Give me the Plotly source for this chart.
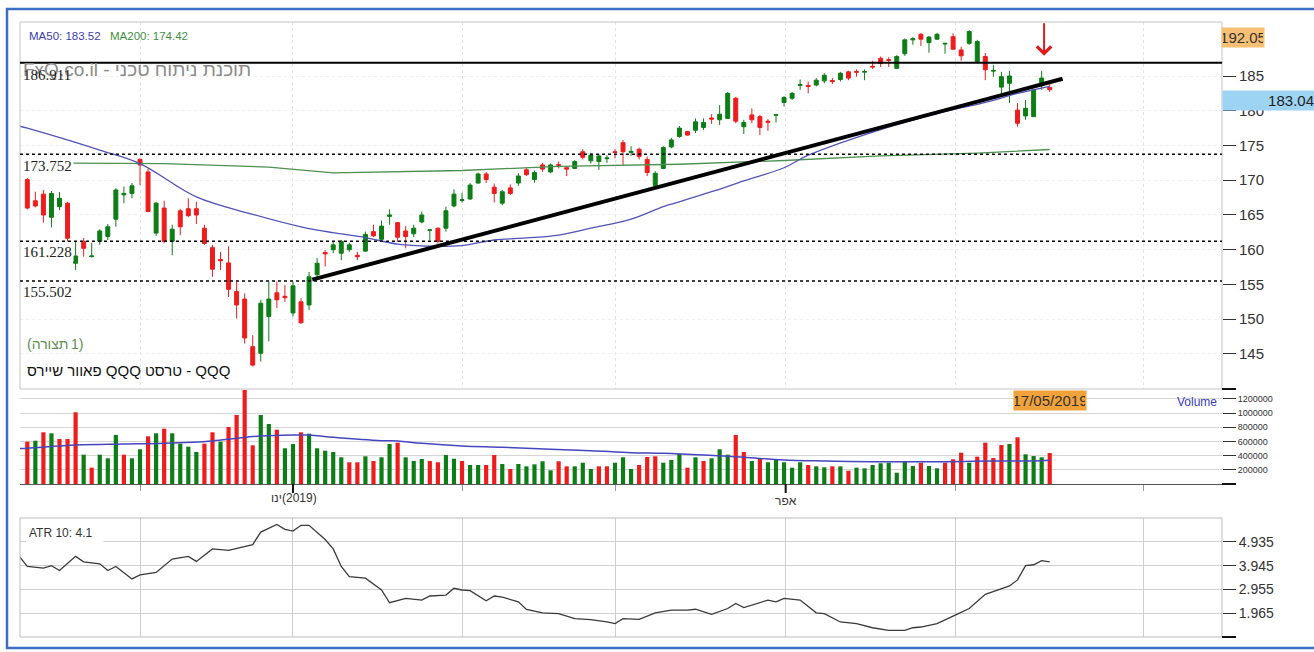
import plotly.graph_objects as go

# ---------------- DATA ----------------
opens = [170.1, 167.05, 168.0, 164.67, 166.2, 166.7, 158.05, 161.2, 159.0, 161.2,
         161.9, 164.4, 167.9, 168.1, 173.0, 171.2, 162.4, 166.0, 161.2, 165.6,
         165.9, 165.9, 163.1, 160.3, 158.6, 158.1, 154.0, 152.9, 146.05, 145.1,
         150.4, 153.8, 153.3, 150.9, 152.5, 152.05, 156.4, 159.6, 160.0, 159.5,
         160.0, 159.2, 159.8, 162.6, 161.5, 164.8, 163.9, 162.7, 162.3, 164.0,
         162.8, 163.1, 163.1, 166.3, 167.1, 167.3, 169.6, 170.9, 169.0, 166.7,
         168.9, 169.6, 171.5, 170.1, 172.2, 171.2, 172.25, 171.8, 171.7, 174.1,
         172.8, 172.7, 173.1, 174.1, 175.4, 174.0, 174.45, 173.0, 169.2, 171.7,
         174.8, 176.3, 177.0, 177.2, 177.6, 178.95, 178.7, 178.9, 181.8, 177.7,
         179.4, 179.15, 178.5, 179.35, 181.2, 181.8, 183.65, 183.65, 183.7, 184.3,
         184.35, 184.5, 185.6, 185.65, 185.55, 186.4, 187.55, 187.35, 186.1, 188.2,
         190.2, 191.0, 189.8, 190.3, 189.6, 190.65, 188.75, 189.7, 187.05, 187.8,
         185.7, 183.4, 183.95, 180.1, 179.25, 179.15, 183.7, 183.35]
highs = [170.3, 168.35, 168.6, 168.45, 168.3, 166.9, 161.2, 161.7, 161.0, 162.95,
         163.7, 168.85, 169.1, 169.6, 173.15, 171.7, 166.9, 167.05, 163.6, 165.9,
         167.4, 166.9, 163.6, 160.7, 159.7, 160.5, 155.4, 153.7, 147.7, 152.8,
         155.4, 155.4, 154.9, 155.4, 153.0, 156.8, 158.8, 160.0, 161.2, 161.4,
         161.0, 159.7, 162.6, 163.6, 164.2, 165.8, 164.0, 163.4, 163.6, 165.5,
         162.9, 163.2, 166.2, 168.7, 168.2, 169.6, 171.1, 171.2, 169.5, 168.6,
         169.4, 171.0, 171.9, 171.4, 172.5, 172.4, 172.7, 172.0, 172.9, 174.45,
         173.95, 173.8, 173.6, 174.45, 175.8, 174.9, 174.7, 173.4, 171.3, 174.9,
         176.1, 177.8, 177.1, 178.9, 178.9, 179.5, 180.8, 182.7, 182.0, 178.7,
         180.35, 179.4, 178.8, 179.5, 182.1, 182.7, 184.5, 184.2, 184.7, 185.4,
         184.7, 185.6, 185.75, 185.95, 185.95, 187.2, 187.8, 187.7, 188.0, 190.4,
         190.6, 191.2, 190.75, 191.2, 189.7, 191.15, 189.2, 191.6, 190.2, 188.3,
         186.6, 185.6, 185.75, 181.1, 181.55, 183.1, 185.75, 184.4]
lows = [165.8, 166.1, 163.9, 163.2, 165.7, 161.2, 157.1, 159.0, 158.9, 160.7,
        161.4, 163.3, 166.7, 167.4, 169.3, 165.4, 162.0, 160.9, 159.2, 162.1,
        164.7, 163.7, 160.7, 156.1, 157.1, 153.2, 150.1, 146.5, 143.2, 143.9,
        146.8, 151.6, 152.5, 150.4, 149.3, 151.3, 155.8, 157.6, 159.5, 158.5,
        159.7, 158.5, 159.7, 161.8, 161.4, 163.6, 161.1, 160.2, 161.8, 163.8,
        161.4, 160.9, 162.6, 166.1, 166.8, 167.2, 169.5, 169.6, 166.8, 166.4,
        167.9, 169.2, 170.6, 169.65, 171.2, 171.0, 171.7, 170.6, 171.6, 173.0,
        172.4, 171.5, 172.5, 173.15, 172.2, 173.5, 173.0, 170.6, 168.8, 171.6,
        174.6, 176.1, 176.4, 176.8, 177.2, 178.1, 177.95, 178.8, 178.2, 176.65,
        178.2, 176.5, 177.1, 178.3, 180.6, 181.55, 183.0, 182.5, 183.5, 183.95,
        183.85, 184.2, 184.4, 184.9, 184.4, 186.0, 186.3, 186.3, 186.0, 187.9,
        189.5, 189.3, 188.35, 190.2, 188.2, 188.75, 187.2, 189.5, 186.9, 184.4,
        184.9, 182.3, 181.1, 177.7, 178.7, 179.1, 183.0, 182.7]
closes = [166.0, 166.3, 165.0, 168.1, 167.4, 161.65, 159.1, 160.2, 159.1, 162.7,
          163.3, 168.6, 168.1, 169.2, 172.2, 165.5, 166.7, 161.2, 162.95, 163.3,
          164.9, 165.0, 160.9, 157.2, 158.4, 154.3, 152.05, 147.3, 143.4, 152.3,
          152.9, 152.8, 153.1, 154.8, 149.5, 156.1, 158.05, 159.4, 160.7, 161.2,
          160.7, 159.0, 162.2, 162.0, 163.4, 165.0, 161.8, 161.9, 163.1, 165.0,
          162.85, 161.2, 165.6, 168.0, 167.2, 169.3, 170.9, 170.1, 168.1, 168.35,
          168.1, 170.6, 170.8, 171.1, 171.6, 172.2, 172.15, 171.6, 172.7, 173.3,
          173.6, 173.5, 173.2, 174.0, 174.1, 174.15, 173.4, 171.1, 171.0, 174.7,
          175.8, 177.5, 176.5, 178.4, 178.3, 178.8, 179.5, 182.5, 178.5, 178.3,
          178.7, 177.6, 178.35, 179.45, 181.9, 182.5, 183.75, 183.5, 184.4, 185.1,
          184.2, 185.4, 184.7, 185.55, 185.65, 186.3, 186.8, 187.25, 187.8, 190.2,
          190.35, 190.3, 190.6, 191.0, 189.7, 188.85, 187.9, 191.4, 189.95, 185.9,
          185.8, 184.9, 185.0, 178.2, 180.35, 183.0, 184.7, 183.04]
volumes = [596000, 610000, 728000, 714000, 634000, 634000, 1010000, 413000, 230000, 413000,
           362000, 690000, 413000, 362000, 489000, 672000, 714000, 779000, 714000, 568000,
           525000, 451000, 568000, 728000, 596000, 803000, 972000, 1324000, 545000, 972000,
           845000, 765000, 503000, 563000, 728000, 709000, 503000, 469000, 451000, 376000,
           306000, 306000, 390000, 324000, 376000, 563000, 582000, 376000, 324000, 352000,
           324000, 306000, 408000, 356000, 324000, 268000, 268000, 268000, 408000, 282000,
           211000, 282000, 249000, 277000, 320000, 193000, 320000, 249000, 249000, 300000,
           211000, 249000, 249000, 300000, 376000, 211000, 268000, 380000, 390000, 300000,
           338000, 423000, 230000, 376000, 324000, 362000, 489000, 413000, 690000, 451000,
           324000, 352000, 306000, 338000, 306000, 230000, 306000, 268000, 249000, 235000,
           249000, 249000, 187000, 230000, 221000, 268000, 292000, 300000, 159000, 324000,
           254000, 300000, 254000, 221000, 300000, 348000, 441000, 300000, 385000, 582000,
           366000, 549000, 563000, 658000, 418000, 394000, 376000, 437000]

ma50_idx = [-1, 0, 9, 14, 21, 28, 34, 38, 42, 46, 50, 54, 58, 62, 66, 70, 75, 79, 81,
            85, 89, 94, 97, 106, 113, 119, 123, 127]
ma50_val = [177.8, 177.5, 174.35, 172.4, 167.6, 165.1, 163.3, 162.45, 161.75, 160.8, 160.5,
            160.6, 161.4, 161.7, 162.1, 163.1, 164.4, 166.2, 166.9, 168.35, 169.9,
            171.8, 173.6, 177.3, 179.6, 181.2, 182.5, 183.52]
ma200_idx = [0, 17, 30, 38, 54, 66, 81, 94, 106, 118, 127]
ma200_val = [172.5, 172.4, 171.9, 171.05, 171.4, 172.0, 172.3, 172.84, 173.5, 173.9, 174.42]

vol_ma_idx = [-1, 0, 6, 12, 17, 23, 26, 29, 33, 35, 38, 44, 46, 49, 54, 59, 65, 70, 75,
              79, 84, 89, 94, 99, 105, 110, 115, 120, 125, 127]
vol_ma_val = [500000, 503000, 549000, 563000, 573000, 606000, 644000, 676000, 690000, 690000,
              658000, 610000, 606000, 573000, 535000, 517000, 489000, 469000, 441000,
              432000, 408000, 376000, 338000, 324000, 314000, 314000, 314000, 324000,
              324000, 334000]

atr_idx = [-1, 0, 2, 3, 4, 6, 7, 9, 10, 11, 13, 14, 16, 18, 20, 21, 23, 25, 28, 29,
           31, 32, 33, 34, 35, 37, 38, 39, 40, 42, 44, 45, 47, 49, 50, 52, 53, 54, 55,
           57, 58, 59, 61, 62, 64, 66, 68, 70, 72, 73, 74, 76, 78, 80, 82, 83, 85, 87,
           88, 89, 92, 93, 94, 96, 98, 99, 101, 103, 105, 107, 109, 110, 111, 113, 115,
           117, 119, 120, 122, 123, 124, 125, 126, 127]
atr_val = [4.33, 3.91, 3.84, 3.94, 3.74, 4.33, 4.10, 4.02, 3.74, 3.91, 3.39, 3.56, 3.66,
           4.22, 4.33, 4.12, 4.64, 4.58, 4.82, 5.34, 5.66, 5.45, 5.38, 5.62, 5.62, 5.03,
           4.64, 3.91, 3.49, 3.42, 2.93, 2.40, 2.58, 2.51, 2.68, 2.72, 3.00, 2.93, 2.90,
           2.48, 2.68, 2.63, 2.44, 2.12, 1.98, 1.95, 1.74, 1.70, 1.60, 1.53, 1.74, 1.71,
           1.98, 2.09, 2.09, 2.13, 1.92, 2.16, 2.37, 2.20, 2.51, 2.44, 2.58, 2.51, 1.98,
           1.95, 1.60, 1.53, 1.36, 1.25, 1.25, 1.36, 1.39, 1.53, 1.84, 2.16, 2.75, 2.86,
           3.10, 3.35, 3.94, 3.98, 4.15, 4.10]

resistance_level = 186.911
dotted_levels = [173.752, 161.228, 155.502]
trend_idx = [35.4, 128.6]
trend_val = [155.7, 184.6]
signal_idx = 126.3
signal_price = 187.9

ma50_last, ma200_last, atr_last = 183.52, 174.42, 4.1
last_close, period_high, last_date = 183.04, 192.05, "17/05/2019"

month_ticks = [14.1, 33.0, 54.0, 73.1, 94.2, 115.3, 138.7]
month_labels = ["", "", "", "", "אפר", "", ""]
jan_word, jan_year = "ינו", "(2019)"
major_months = [33.0, 94.2]
price_ticks = [145, 150, 155, 160, 165, 170, 175, 180, 185]
vol_ticks = [0, 200000, 400000, 600000, 800000, 1000000, 1200000]
atr_ticks = [0.975, 1.965, 2.955, 3.945, 4.935]

watermark = "FxQ.co.il - תוכנת ניתוח טכני"
layout_word, layout_num = "(תצורה", "1)"
instrument = "פאוור שיירס QQQ טרסט - QQQ"

# ---------------- LAYOUT HELPERS ----------------
W, H = 1314, 652
PL, PR, PT, PB = 20, 1222, 22, 637


def px(x):
    return (x - PL) / (PR - PL)


def py(y):
    return (PB - y) / (PB - PT)


x_range = [-0.907, 148.4]
price_range = [139.96, 192.77]
vol_range = [0, 1338000]
atr_range = [0.975, 5.925]

GREEN = "#0d7d16"
RED = "#ee1c1c"
NARROW = "Liberation Sans Narrow, Arial Narrow, Liberation Sans, Arial"
SANS = "Liberation Sans, Arial"
SERIF = "Liberation Serif, Times New Roman"

idx = list(range(len(closes)))
vol_colors = [RED] + [GREEN if closes[i] >= closes[i - 1] else RED for i in range(1, len(closes))]

fig = go.Figure()

fig.add_trace(go.Scatter(x=ma200_idx, y=ma200_val, mode="lines", line=dict(color="#4d9150", width=1.3),
                         xaxis="x", yaxis="y", hoverinfo="skip"))
fig.add_trace(go.Scatter(x=ma50_idx, y=ma50_val, mode="lines", line=dict(color="#5252b8", width=1.3, shape="spline"),
                         xaxis="x", yaxis="y", hoverinfo="skip"))
fig.add_trace(go.Candlestick(
    x=idx, open=opens, high=highs, low=lows, close=closes,
    increasing=dict(line=dict(color=GREEN, width=1), fillcolor=GREEN),
    decreasing=dict(line=dict(color=RED, width=1), fillcolor=RED),
    whiskerwidth=0, xaxis="x", yaxis="y", hoverinfo="skip"))
fig.add_trace(go.Scatter(x=trend_idx, y=trend_val, mode="lines", line=dict(color="#000000", width=4),
                         xaxis="x", yaxis="y", hoverinfo="skip"))

fig.add_trace(go.Bar(x=idx, y=volumes, marker=dict(color=vol_colors, line=dict(width=0)), width=0.52,
                     xaxis="x2", yaxis="y2", hoverinfo="skip"))
fig.add_trace(go.Scatter(x=vol_ma_idx, y=vol_ma_val, mode="lines", line=dict(color="#4646c0", width=1.5, shape="spline"),
                         xaxis="x2", yaxis="y2", hoverinfo="skip"))

fig.add_trace(go.Scatter(x=atr_idx, y=atr_val, mode="lines", line=dict(color="#3a3a3a", width=1.3),
                         xaxis="x3", yaxis="y3", hoverinfo="skip"))

common_x = dict(range=x_range, domain=[0, 1], zeroline=False, fixedrange=True)
fig.update_layout(
    width=W, height=H, margin=dict(l=PL, r=W - PR, t=PT, b=H - PB),
    paper_bgcolor="white", plot_bgcolor="white", showlegend=False,
    xaxis=dict(**common_x, anchor="y", rangeslider=dict(visible=False), showticklabels=False,
               tickvals=month_ticks, ticks="", showgrid=True, gridcolor="#e2e2e2", griddash="dot"),
    xaxis2=dict(**common_x, anchor="y2", tickvals=month_ticks, ticktext=month_labels, ticks="outside",
                ticklen=6, tickcolor="#999", showgrid=False, showline=True, linecolor="#555", linewidth=1,
                tickfont=dict(family=SANS, size=12, color="#333")),
    xaxis3=dict(**common_x, anchor="y3", tickvals=month_ticks, showticklabels=False, ticks="",
                showgrid=True, gridcolor="#cfcfcf"),
    yaxis=dict(domain=[py(389), 1], range=price_range, side="right", anchor="x", tickvals=price_ticks,
               ticks="outside", ticklen=13, tickcolor="#333", showgrid=True, gridcolor="#efefef",
               griddash="dot", zeroline=False, tickfont=dict(family=NARROW, size=15, color="#333")),
    yaxis2=dict(domain=[py(484), py(389)], range=vol_range, side="right", anchor="x2", tickvals=vol_ticks,
                ticktext=[""] + [str(v) for v in vol_ticks[1:]], ticks="outside", ticklen=13, tickcolor="#333",
                showgrid=True, gridcolor="#d6d6d6", zeroline=False,
                tickfont=dict(family=NARROW, size=9, color="#333")),
    yaxis3=dict(domain=[0, py(518)], range=atr_range, side="right", anchor="x3", tickvals=atr_ticks,
                ticktext=[""] + ["%.3f" % v for v in atr_ticks[1:]], ticks="outside", ticklen=13,
                tickcolor="#333", showgrid=True, gridcolor="#d0d0d0", zeroline=False,
                tickfont=dict(family=NARROW, size=14, color="#333")),
)

shapes = []
shapes.append(dict(type="rect", xref="paper", yref="paper", x0=0, x1=1, y0=py(389), y1=1,
                   line=dict(color="#c4c4c4", width=1)))
shapes.append(dict(type="rect", xref="paper", yref="paper", x0=0, x1=1, y0=0, y1=py(518),
                   line=dict(color="#bdbdbd", width=1)))
shapes.append(dict(type="rect", xref="paper", yref="paper", x0=px(7), x1=px(1340), y0=py(648), y1=py(9),
                   line=dict(color="#3c6ec6", width=2.5)))
shapes.append(dict(type="line", xref="paper", yref="y", x0=0, x1=1, y0=resistance_level, y1=resistance_level,
                   line=dict(color="black", width=2)))
for lv in dotted_levels:
    shapes.append(dict(type="line", xref="paper", yref="y", x0=0, x1=1, y0=lv, y1=lv,
                       line=dict(color="black", width=1.5, dash="3px,3px")))
for yy in [389, 484, 637]:
    shapes.append(dict(type="line", xref="paper", yref="paper", x0=1, x1=px(1236), y0=py(yy), y1=py(yy),
                       line=dict(color="#111", width=2)))
for m in major_months:
    shapes.append(dict(type="line", xref="x2", yref="paper", x0=m, x1=m, y0=py(484), y1=py(493),
                       line=dict(color="#111", width=2)))

annotations = [
    dict(x=px(27), y=py(36), text="MA50: %.2f" % ma50_last, font=dict(family=SANS, size=11.5, color="#3c3cb4")),
    dict(x=px(108), y=py(36), text="MA200: %.2f" % ma200_last, font=dict(family=SANS, size=11.5, color="#3f8f3f")),
    dict(x=px(21), y=py(70), text=watermark, font=dict(family=SANS, size=19, color="#8a8a8a")),
    dict(x=px(21), y=py(75), text="%.3f" % resistance_level, font=dict(family=SERIF, size=15, color="#222")),
    dict(x=px(21), y=py(166), text="%.3f" % dotted_levels[0], font=dict(family=SERIF, size=15, color="#222"),
         bgcolor="white", borderpad=1),
    dict(x=px(21), y=py(252), text="%.3f" % dotted_levels[1], font=dict(family=SERIF, size=15, color="#222"),
         bgcolor="white", borderpad=1),
    dict(x=px(21), y=py(292), text="%.3f" % dotted_levels[2], font=dict(family=SERIF, size=15, color="#222"),
         bgcolor="white", borderpad=1),
    dict(x=px(25), y=py(344), text=layout_word, font=dict(family=SANS, size=14, color="#5d8f50")),
    dict(x=px(69), y=py(344), text=layout_num, font=dict(family=SANS, size=14, color="#5d8f50")),
    dict(x=px(25), y=py(370), text=instrument, font=dict(family=SANS, size=15, color="#111")),
    dict(x=px(26), y=py(533), text="ATR 10: %.1f" % atr_last, font=dict(family=SANS, size=12, color="#333"),
         bgcolor="white", width=72, align="left", borderpad=2),
    dict(x=px(1175), y=py(402), text="Volume", font=dict(family=NARROW, size=12, color="#3a3ac0")),
    dict(x=px(280), y=py(498), text=jan_year, font=dict(family=SANS, size=12, color="#333")),
]
for a in annotations:
    a.update(xref="paper", yref="paper", xanchor="left", yanchor="middle", showarrow=False)

annotations += [
    dict(xref="paper", yref="paper", x=px(284), y=py(498), xanchor="right", yanchor="middle", showarrow=False,
         text=jan_word, font=dict(family=SANS, size=12, color="#333")),
    dict(xref="paper", yref="paper", x=px(1221), y=py(37), xanchor="left", yanchor="middle", showarrow=False,
         text="%.2f" % period_high, bgcolor="#f6bf73", font=dict(family=NARROW, size=15, color="#333"),
         width=40, height=17, borderpad=1),
    dict(xref="paper", yref="paper", x=px(1222), y=py(101), xanchor="left", yanchor="middle", showarrow=False,
         text="%.2f" % last_close, bgcolor="#9dd4f3", font=dict(family=NARROW, size=15, color="#222"),
         width=90, height=17, align="right", borderpad=1),
    dict(xref="paper", yref="paper", x=px(1050), y=py(400.5), xanchor="center", yanchor="middle", showarrow=False,
         text=last_date, bgcolor="#f2a23a", font=dict(family=NARROW, size=15, color="#333"),
         width=70, height=17, borderpad=1),
    dict(xref="x", yref="y", x=signal_idx, y=signal_price, ax=0, ay=-34, text="", showarrow=True,
         arrowhead=4, arrowsize=1.4, arrowwidth=2, arrowcolor="#e31a1a"),
]

fig.update_layout(shapes=shapes, annotations=annotations)
fig.write_html("out.html", config={"displayModeBar": False},
               post_script="document.body.style.margin='0px';")
